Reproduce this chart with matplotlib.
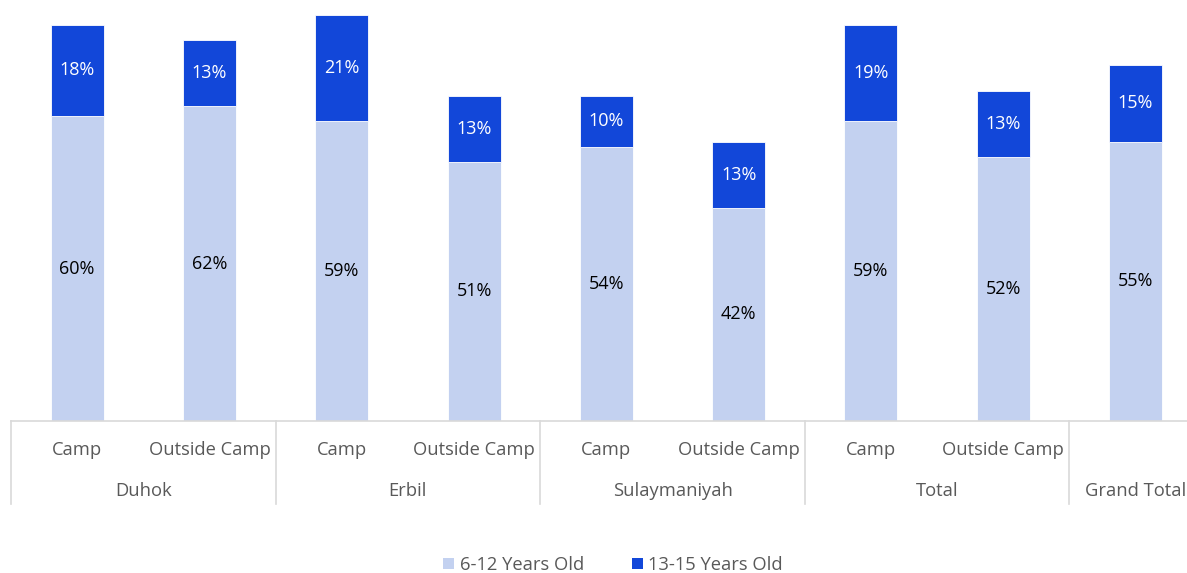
import matplotlib
matplotlib.use("Agg")
import matplotlib.pyplot as plt
from matplotlib.patches import Patch
from matplotlib.lines import Line2D

plt.rcParams['font.family'] = ['Open Sans', 'DejaVu Sans']

regions = ["Duhok", "Erbil", "Sulaymaniyah", "Total", "Grand Total"]
sub_labels = ["Camp", "Outside Camp", "Camp", "Outside Camp", "Camp", "Outside Camp",
              "Camp", "Outside Camp", ""]
age_6_12 = [60, 62, 59, 51, 54, 42, 59, 52, 55]
age_13_15 = [18, 13, 21, 13, 10, 13, 19, 13, 15]
series_names = ["6-12 Years Old", "13-15 Years Old"]

light = "#C3D1F0"
dark = "#1247D9"
grid_col = "#D9D9D9"
text_col = "#595959"

W, H = 1187, 573
fig = plt.figure(figsize=(W / 100, H / 100), dpi=100)

# axes span nine equal slots starting at x=11; the last slot runs past the edge
slot = 132.3
left_px, base_px, top_px = 11, 421, 10
ax = fig.add_axes([left_px / W, 1 - base_px / H, 9 * slot / W, (base_px - top_px) / H])
ax.set_xlim(-0.5, 8.5)
ax.set_ylim(0, 80.9)

x = list(range(len(age_6_12)))
bw = 53 / slot
ax.bar(x, age_6_12, width=bw, color=light, edgecolor="white", linewidth=0.6, zorder=2)
ax.bar(x, age_13_15, width=bw, bottom=age_6_12, color=dark, edgecolor="white",
       linewidth=0.6, zorder=2)

for xi, a, b in zip(x, age_6_12, age_13_15):
    ax.text(xi, a / 2, f"{a}%", ha="center", va="center", fontsize=13, color="black")
    ax.text(xi, a + b / 2, f"{b}%", ha="center", va="center", fontsize=13, color="white")

for s in ax.spines.values():
    s.set_visible(False)
ax.set_xticks([])
ax.set_yticks([])

# category axis drawn in figure pixel coordinates
def fx(px):
    return px / W

def fy(py):
    return 1 - py / H

fig.add_artist(Line2D([fx(left_px), 1.02], [fy(base_px), fy(base_px)], color=grid_col, lw=1.2))
for k in range(5):
    xb = left_px + 2 * slot * k
    fig.add_artist(Line2D([fx(xb), fx(xb)], [fy(base_px), fy(504)], color=grid_col, lw=1.2))

for i, lab in enumerate(sub_labels):
    cx = left_px + slot * (i + 0.5)
    if lab:
        fig.text(fx(cx), fy(450), lab, ha="center", va="center", fontsize=13.2, color=text_col)

for r, name in enumerate(regions):
    if r < 4:
        cx = left_px + 2 * slot * r + slot
    else:
        cx = left_px + 8 * slot + slot / 2
    fig.text(fx(cx), fy(491), name, ha="center", va="center", fontsize=13.2, color=text_col)

handles = [Patch(facecolor=light, edgecolor="none"), Patch(facecolor=dark, edgecolor="none")]
fig.legend(handles, series_names, loc="center", bbox_to_anchor=(fx(613), fy(565)), ncol=2,
           frameon=False, fontsize=13.2, labelcolor=text_col, handlelength=0.6,
           handleheight=0.6, handletextpad=0.3, columnspacing=2.6)

fig.savefig("out.png", dpi=100, facecolor="white")
